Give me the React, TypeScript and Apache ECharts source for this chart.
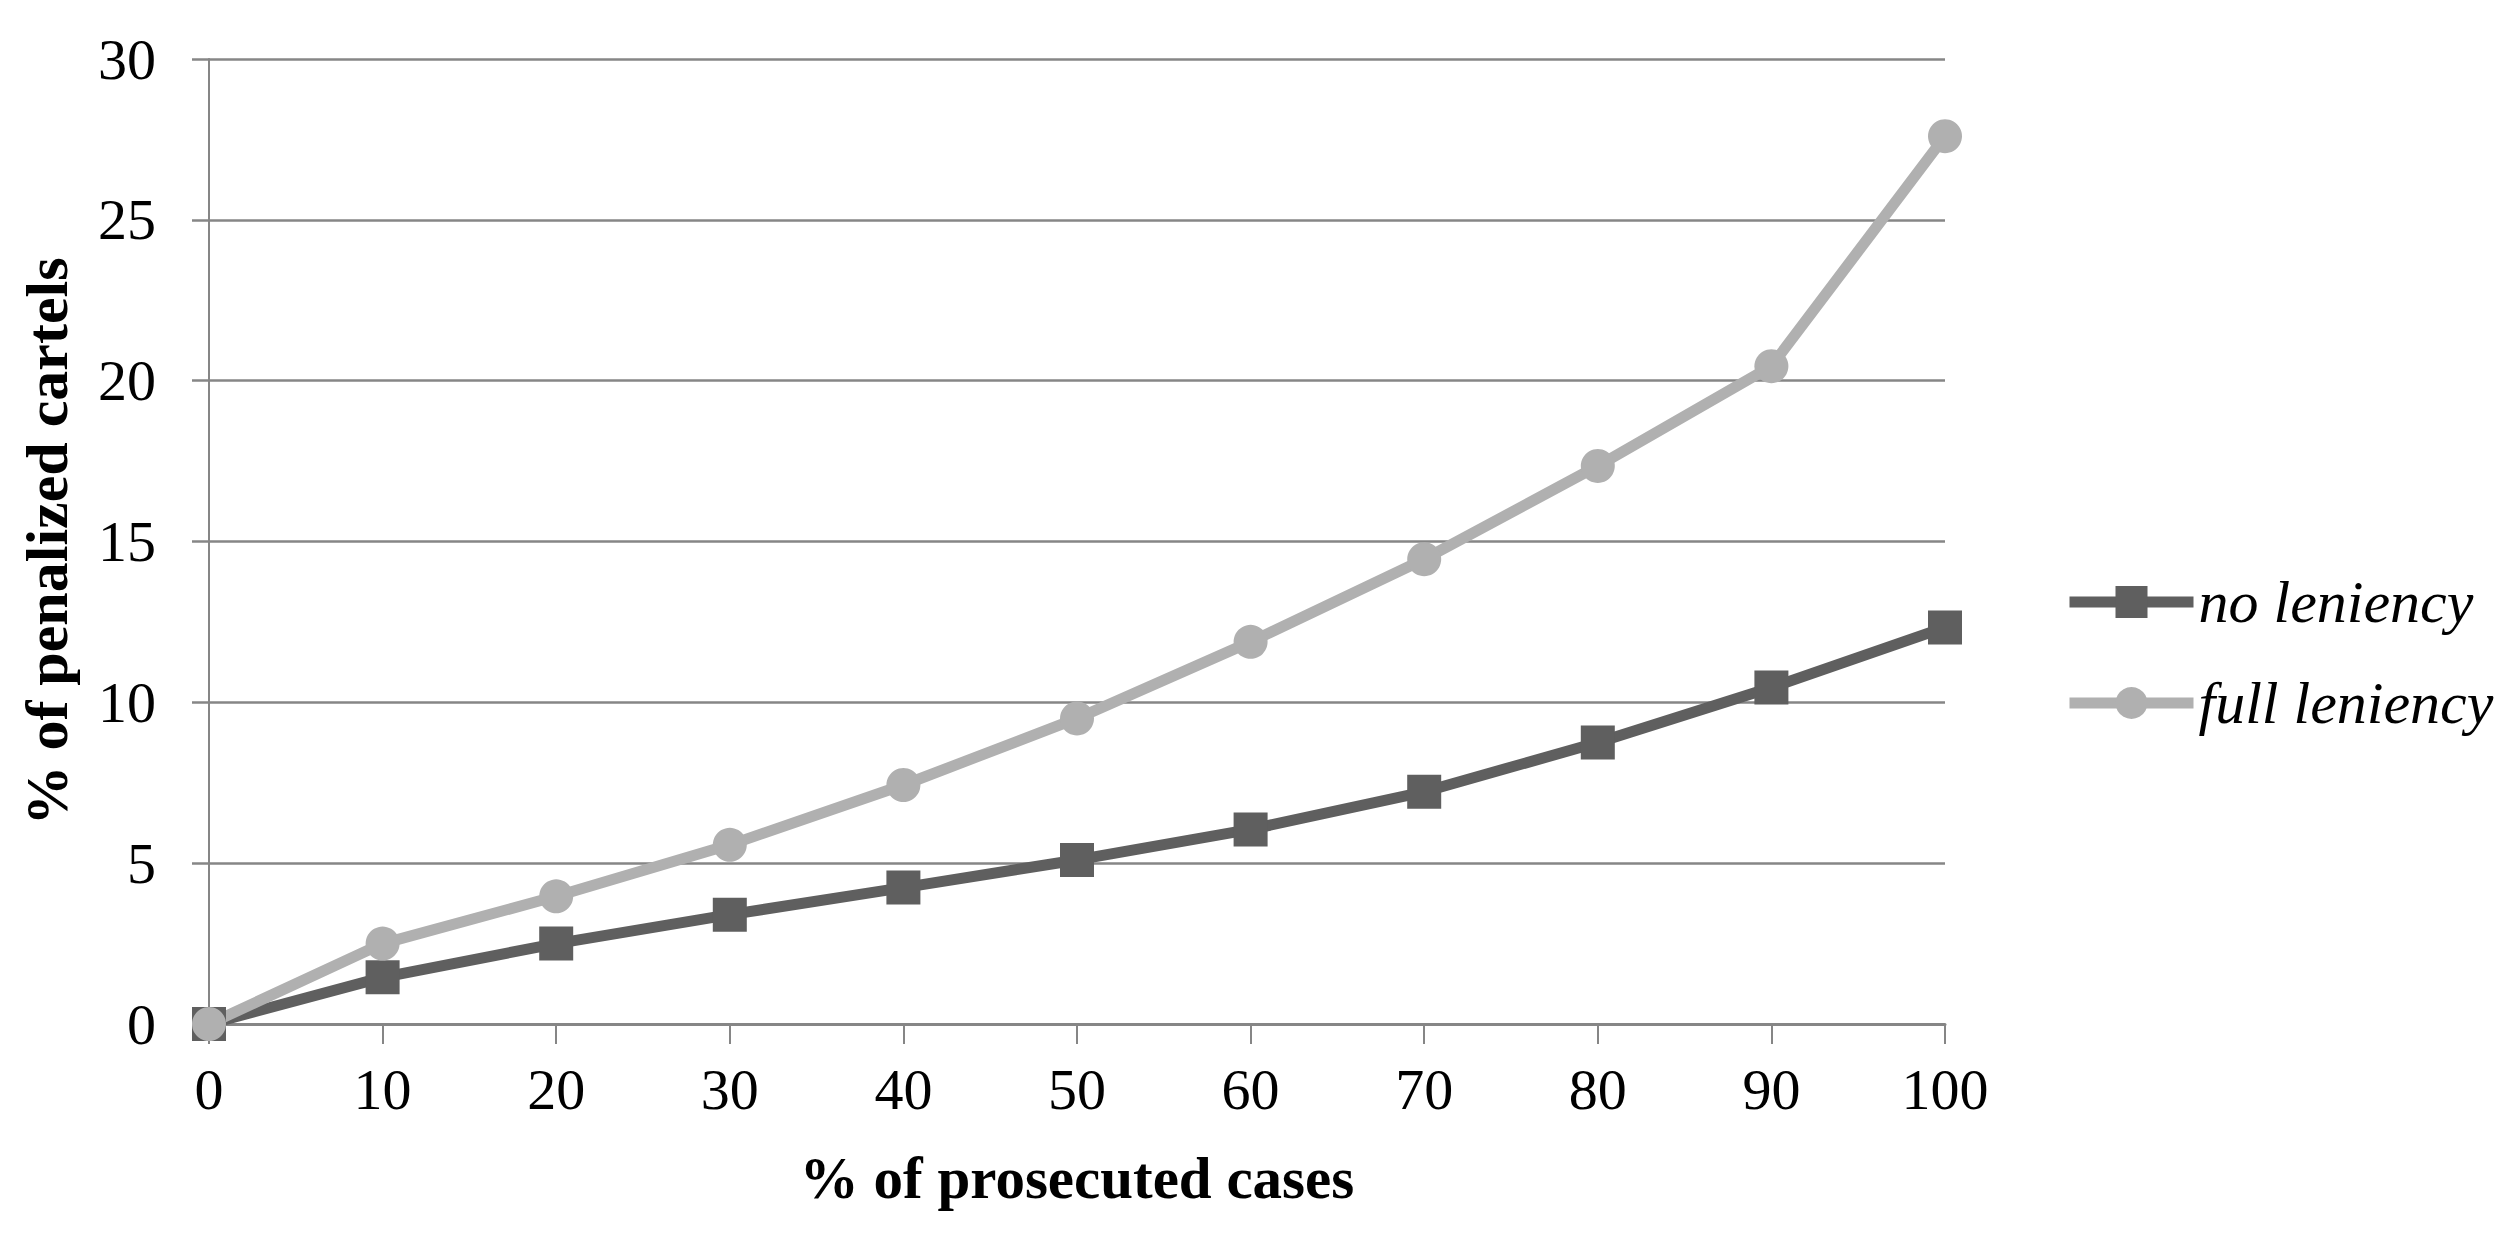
import React, { useEffect, useRef } from "react";
import * as echarts from "echarts";

const xValues = [0, 10, 20, 30, 40, 50, 60, 70, 80, 90, 100];
const noLeniency = [0, 1.45, 2.5, 3.4, 4.24, 5.1, 6.05, 7.22, 8.75, 10.46, 12.33];
const fullLeniency = [0, 2.5, 3.97, 5.57, 7.43, 9.5, 11.88, 14.45, 17.35, 20.45, 27.6];
const seriesNames = ["no leniency", "full leniency"];
const xTitle = "% of prosecuted cases";
const yTitle = "% of penalized cartels";

const FONT = '"Liberation Serif", "Times New Roman", serif';
const DARK = "#5f5f5f";
const LIGHT = "#b0b0b0";
const GRID = "#868686";

export default function App() {
  const ref = useRef<HTMLDivElement>(null);
  useEffect(() => {
    if (!ref.current) return;
    const chart = echarts.init(ref.current, undefined, { renderer: "svg" });
    const pair = (ys: number[]) => xValues.map((x, i) => [x, ys[i]]);
    chart.setOption({
      animation: false,
      backgroundColor: "#ffffff",
      grid: { left: 209, right: 565, top: 59, bottom: 211, containLabel: false },
      legend: {
        orient: "vertical",
        left: 2059,
        top: 567,
        itemWidth: 124,
        itemHeight: 40,
        itemGap: 41,
        data: seriesNames,
        lineStyle: { width: 11 },
        textStyle: {
          fontFamily: FONT,
          fontStyle: "italic",
          fontSize: 60,
          lineHeight: 60,
          color: "#000",
        },
      },
      xAxis: {
        type: "value",
        min: 0,
        max: 100,
        interval: 10,
        name: xTitle,
        nameLocation: "middle",
        nameGap: 124,
        nameTextStyle: { fontFamily: FONT, fontWeight: "bold", fontSize: 59, color: "#000" },
        axisLine: { show: true, lineStyle: { color: GRID, width: 3 } },
        axisTick: { show: true, inside: false, length: 20, lineStyle: { color: GRID, width: 2 } },
        axisLabel: { margin: 36, fontFamily: FONT, fontSize: 58, color: "#000" },
        splitLine: { show: false },
      },
      yAxis: {
        type: "value",
        min: 0,
        max: 30,
        interval: 5,
        name: yTitle,
        nameLocation: "middle",
        nameGap: 132,
        nameRotate: 90,
        nameTextStyle: { fontFamily: FONT, fontWeight: "bold", fontSize: 60, color: "#000" },
        axisLine: { show: true, lineStyle: { color: GRID, width: 2 } },
        axisTick: { show: true, inside: false, length: 17, lineStyle: { color: GRID, width: 2.5 } },
        axisLabel: { margin: 53, fontFamily: FONT, fontSize: 58, color: "#000" },
        splitLine: { show: true, lineStyle: { color: GRID, width: 2.5 } },
      },
      series: [
        {
          name: seriesNames[0],
          type: "line",
          data: pair(noLeniency),
          symbol: "rect",
          symbolSize: 34,
          lineStyle: { color: DARK, width: 11 },
          itemStyle: { color: DARK },
        },
        {
          name: seriesNames[1],
          type: "line",
          data: pair(fullLeniency),
          symbol: "circle",
          symbolSize: 34,
          lineStyle: { color: LIGHT, width: 11 },
          itemStyle: { color: LIGHT },
        },
      ],
    });
    return () => chart.dispose();
  }, []);
  return (
    <div
      ref={ref}
      style={{ position: "absolute", left: 0, top: 0, width: 2510, height: 1235, background: "#fff" }}
    />
  );
}
